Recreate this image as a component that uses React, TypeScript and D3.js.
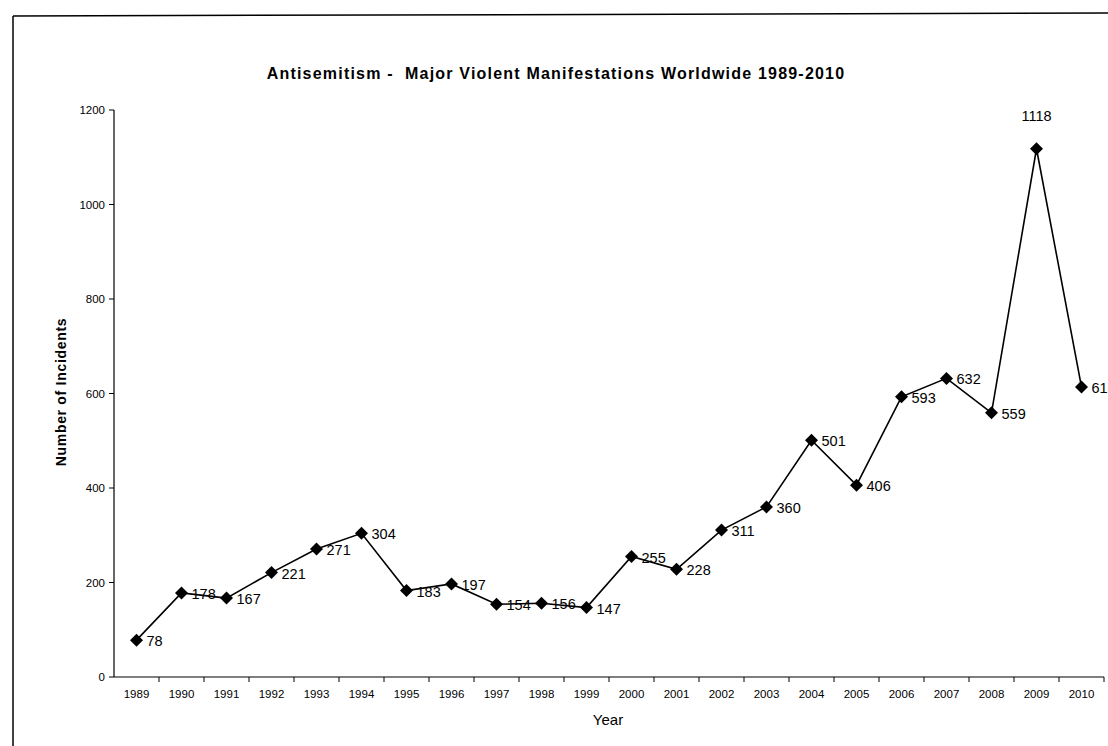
import React from "react";
import * as d3 from "d3";

const title = "Antisemitism -  Major Violent Manifestations Worldwide 1989-2010";
const years = ["1989","1990","1991","1992","1993","1994","1995","1996","1997","1998","1999","2000","2001","2002","2003","2004","2005","2006","2007","2008","2009","2010"];
const incidents = [78,178,167,221,271,304,183,197,154,156,147,255,228,311,360,501,406,593,632,559,1118,614];
const yTicks = [0,200,400,600,800,1000,1200];
const xTitle = "Year";
const yTitle = "Number of Incidents";

const W = 1108, H = 746;
const left = 114, right = 1104, top = 110, bottom = 677;

export default function App() {
  const x = d3.scaleBand<string>().domain(years).range([left, right]);
  const y = d3.scaleLinear().domain([0, 1200]).range([bottom, top]);
  const line = d3.line<number>()
    .x((_, i) => (x(years[i]) as number) + x.bandwidth() / 2)
    .y((d) => y(d));
  const font = "Arial, 'Liberation Sans', sans-serif";
  const diamond = "M0,-6.5L6.5,0L0,6.5L-6.5,0Z";
  const maxIdx = incidents.indexOf(d3.max(incidents) as number);
  return (
    <svg width={W} height={H} style={{ position: "absolute", left: 0, top: 0, background: "#fff" }} fontFamily={font}>
      <rect x={0} y={0} width={W} height={H} fill="#fff" />
      {/* frame */}
      <line x1={13} y1={16} x2={W} y2={13} stroke="#000" strokeWidth={1.5} />
      <line x1={13} y1={16} x2={13} y2={H} stroke="#000" strokeWidth={1.5} />
      <text x={556} y={79} textAnchor="middle" fontSize={16} fontWeight="bold" letterSpacing={1.2} style={{ whiteSpace: "pre" }}>{title}</text>
      {/* y axis */}
      <line x1={left} y1={top} x2={left} y2={bottom} stroke="#000" strokeWidth={1.2} />
      {yTicks.map((t) => (
        <g key={t}>
          <line x1={left - 5} y1={y(t)} x2={left} y2={y(t)} stroke="#000" />
          <text x={left - 9} y={y(t) + 4} textAnchor="end" fontSize={11.5}>{t}</text>
        </g>
      ))}
      {/* x axis */}
      <line x1={left} y1={bottom} x2={right} y2={bottom} stroke="#000" strokeWidth={1.2} />
      {years.map((yr) => (
        <g key={yr}>
          <line x1={(x(yr) as number) + x.bandwidth()} y1={bottom} x2={(x(yr) as number) + x.bandwidth()} y2={bottom + 5} stroke="#000" />
          <text x={(x(yr) as number) + x.bandwidth() / 2} y={698} textAnchor="middle" fontSize={11.5}>{yr}</text>
        </g>
      ))}
      <text x={608} y={725} textAnchor="middle" fontSize={15}>{xTitle}</text>
      <text transform={`translate(66,392) rotate(-90)`} textAnchor="middle" fontSize={14} fontWeight="bold" letterSpacing={0.7}>{yTitle}</text>
      {/* series */}
      <path d={line(incidents) as string} fill="none" stroke="#000" strokeWidth={1.6} />
      {incidents.map((v, i) => {
        const cx = (x(years[i]) as number) + x.bandwidth() / 2;
        const cy = y(v);
        return (
          <g key={i}>
            <path d={diamond} transform={`translate(${cx},${cy})`} fill="#000" />
            {i === maxIdx ? (
              <text x={cx} y={cy - 28} textAnchor="middle" fontSize={14.5}>{v}</text>
            ) : (
              <text x={cx + 10} y={cy + 6} fontSize={14.5}>{v}</text>
            )}
          </g>
        );
      })}
    </svg>
  );
}
